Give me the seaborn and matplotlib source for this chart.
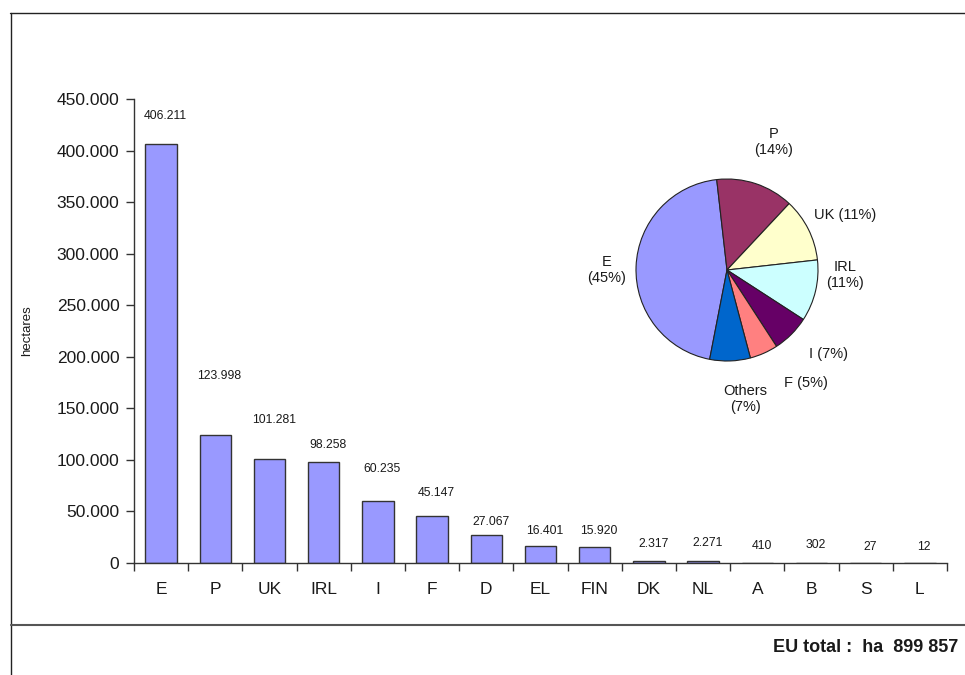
import matplotlib
matplotlib.use("Agg")
import matplotlib.pyplot as plt
import matplotlib.ticker as mticker
from matplotlib.lines import Line2D
import numpy as np
import pandas as pd
import seaborn as sns

# ---- data ----
countries = ["E", "P", "UK", "IRL", "I", "F", "D", "EL", "FIN", "DK", "NL", "A", "B", "S", "L"]
hectares = [406211, 123998, 101281, 98258, 60235, 45147, 27067, 16401, 15920, 2317, 2271, 410, 302, 27, 12]
value_labels = ["406.211", "123.998", "101.281", "98.258", "60.235", "45.147", "27.067", "16.401",
                "15.920", "2.317", "2.271", "410", "302", "27", "12"]

pie_names = ["E", "P", "UK", "IRL", "I", "F", "Others"]
pie_values = [406211, 123998, 101281, 98258, 60235, 45147, 64727]
pie_pct = [45, 14, 11, 11, 7, 5, 7]

eu_total_text = "EU total :  ha  899 857"

# ---- layout / style (not data) ----
label_y = [433500, 181700, 138700, 114400, 91200, 67600, 40100, 31300, 31300,
           18400, 19700, 16800, 17500, 15500, 15500]
pie_colors = ["#9999FF", "#993366", "#FFFFCC", "#CCFFFF", "#660066", "#FF8080", "#0066CC"]
# (angle in degrees, distance in radii) for pie labels
pie_label_pos = [(180, 1.32), (70, 1.50), (25, 1.43), (-2.5, 1.30), (-39.5, 1.45), (-55, 1.52), (-82, 1.43)]
pie_label_fmt = ["{n}\n({p}%)", "{n}\n({p}%)", "{n} ({p}%)", "{n}\n({p}%)", "{n} ({p}%)", "{n} ({p}%)", "{n}\n({p}%)"]

sns.set_theme(style="white")
plt.rcParams["font.family"] = ["Liberation Sans", "DejaVu Sans"]
TXT = "#1a1a1a"

W, H = 965, 675
fig = plt.figure(figsize=(W / 100, H / 100), dpi=100)
fig.patch.set_facecolor("white")

# frame lines
fig.add_artist(Line2D([10 / W, 1.0], [1 - 13 / H, 1 - 13 / H], color="#222222", lw=1.0, transform=fig.transFigure))
fig.add_artist(Line2D([11 / W, 11 / W], [1 - 13 / H, 0], color="#222222", lw=1.0, transform=fig.transFigure))
fig.add_artist(Line2D([11 / W, 1.0], [1 - 625 / H, 1 - 625 / H], color="#555555", lw=1.5, transform=fig.transFigure))

# bar chart
ax = fig.add_axes([134 / W, 1 - 563 / H, (947 - 134) / W, (563 - 99) / H])
df = pd.DataFrame({"country": countries, "hectares": hectares})
sns.barplot(data=df, x="country", y="hectares", ax=ax, color="#9999FF", saturation=1,
            width=0.58, edgecolor="#333333", linewidth=1.0)
ax.set_xlim(-0.5, len(countries) - 0.5)
ax.set_ylim(0, 450000)
ax.set_yticks(np.arange(0, 450001, 50000))
ax.yaxis.set_major_formatter(mticker.FuncFormatter(lambda v, p: f"{int(v):,}".replace(",", ".")))
ax.set_xlabel("")
ax.set_ylabel("hectares", fontsize=9.5, color=TXT, labelpad=17)
for s in ["top", "right"]:
    ax.spines[s].set_visible(False)
for s in ["left", "bottom"]:
    ax.spines[s].set_color("#333333")
    ax.spines[s].set_linewidth(1.0)
ax.tick_params(axis="y", which="major", left=True, length=6, width=1, color="#333333",
               labelsize=12.5, labelcolor=TXT, pad=4.5)
ax.tick_params(axis="x", which="major", bottom=False, length=0, labelsize=12.5, labelcolor=TXT, pad=14)
ax.set_xticks(np.arange(-0.5, len(countries)), minor=True)
ax.tick_params(axis="x", which="minor", bottom=True, length=6, width=1, color="#333333")
ax.grid(False)

for i, (lab, ly) in enumerate(zip(value_labels, label_y)):
    ax.text(i + 0.08, ly, lab, ha="center", va="center", fontsize=8.8, color=TXT)

# pie chart
cx, cy, r = 727, 270, 91
pax = fig.add_axes([(cx - r) / W, 1 - (cy + r) / H, 2 * r / W, 2 * r / H])
pax.pie(pie_values, colors=pie_colors, startangle=-101, counterclock=False, radius=1,
        wedgeprops=dict(edgecolor="#222222", linewidth=0.8))
pax.set_xlim(-1, 1)
pax.set_ylim(-1, 1)
pax.set_aspect("equal")
pax.axis("off")
for name, pct, (ang, dist), fmt in zip(pie_names, pie_pct, pie_label_pos, pie_label_fmt):
    a = np.deg2rad(ang)
    pax.text(dist * np.cos(a), dist * np.sin(a), fmt.format(n=name, p=pct), ha="center", va="center",
             fontsize=10.5, color=TXT, linespacing=1.15, clip_on=False)

fig.text(958 / W, 1 - 648 / H, eu_total_text, ha="right", va="center", fontsize=13,
         fontweight="bold", color=TXT)

fig.savefig("out.png", dpi=100)
